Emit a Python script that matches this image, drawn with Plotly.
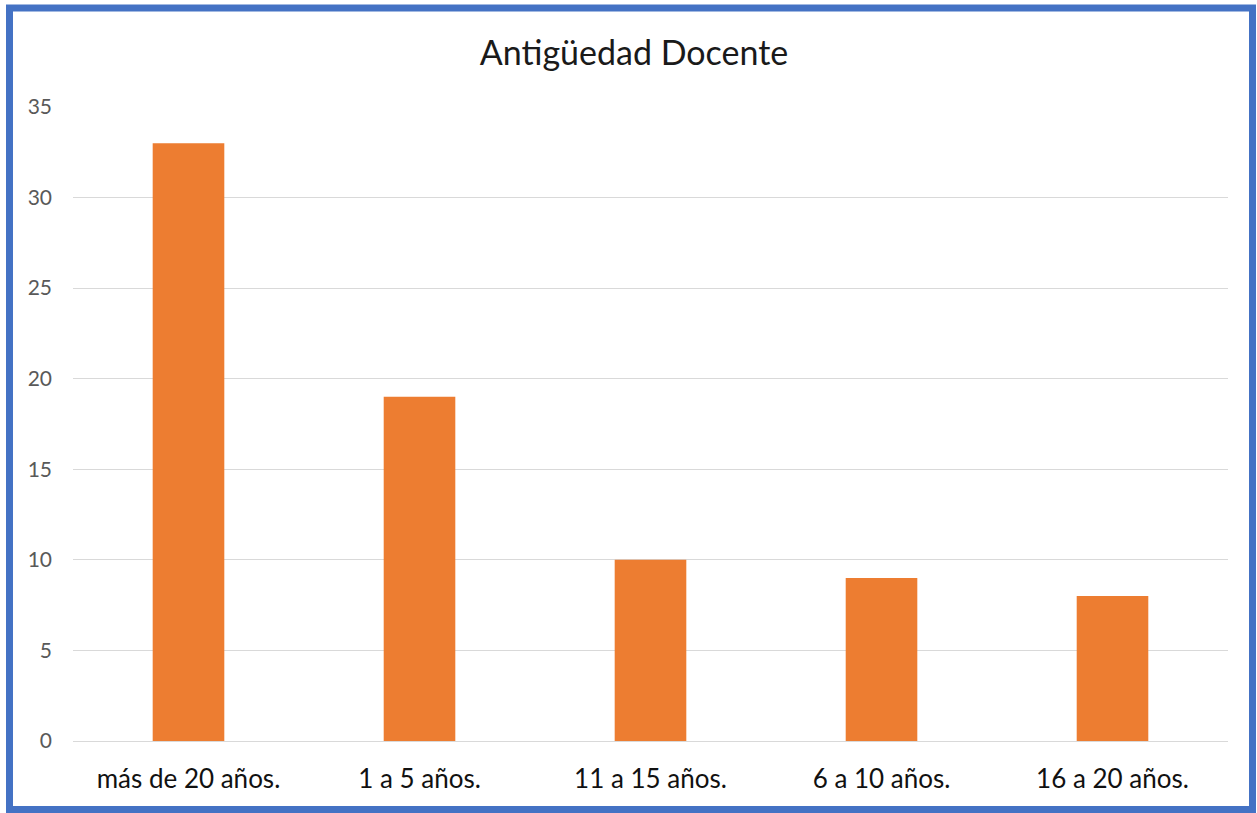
import plotly.graph_objects as go

categories = ["más de 20 años.", "1 a 5 años.", "11 a 15 años.", "6 a 10 años.", "16 a 20 años."]
values = [33, 19, 10, 9, 8]
y_ticks = [0, 5, 10, 15, 20, 25, 30, 35]

W, H = 1257, 813
L, R, T, B = 73, 29, 107, 72
pw, ph = W - L - R, H - T - B

def px(x):
    return (x - L) / pw

def py(y):
    return (H - B - y) / ph

fig = go.Figure(go.Bar(x=categories, y=values, marker=dict(color="#ED7D31", line=dict(width=0))))

fig.update_layout(
    width=W, height=H,
    margin=dict(l=L, r=R, t=T, b=B),
    paper_bgcolor="white", plot_bgcolor="white",
    bargap=0.69,
    showlegend=False,
    font=dict(family="Lato, Noto Sans, sans-serif"),
    title=dict(text="Antigüedad Docente", x=634 / W, xanchor="center",
               y=1 - 53 / H, yanchor="middle",
               font=dict(size=34, color="#1a1a1a", family="Lato, Noto Sans, sans-serif")),
    xaxis=dict(showgrid=False, showline=False, ticks="", ticklabelstandoff=20,
               tickfont=dict(size=26, color="#111111")),
    yaxis=dict(range=[0, 35], tickvals=y_ticks, showgrid=True, gridcolor="#D9D9D9", gridwidth=1.3,
               zeroline=True, zerolinecolor="#D9D9D9", zerolinewidth=1.3,
               showline=False, ticks="", ticklabelstandoff=20,
               tickfont=dict(size=21, color="#595959")),
    shapes=[dict(type="rect", xref="paper", yref="paper",
                 x0=px(9.5), x1=px(1252.5), y0=py(809.5), y1=py(8),
                 line=dict(color="#4472C4", width=7), fillcolor="rgba(0,0,0,0)", layer="above")],
)

fig.write_html("out.html", config={"displayModeBar": False},
               post_script="document.body.style.margin='0';document.body.style.padding='0';document.body.style.overflow='hidden';")
